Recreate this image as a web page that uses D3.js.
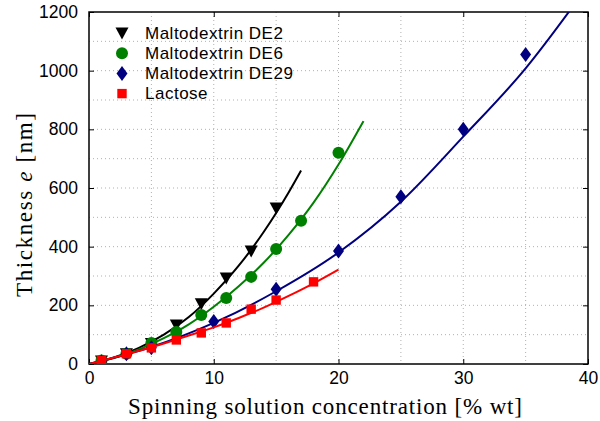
<!DOCTYPE html>
<html>
<head>
<meta charset="utf-8">
<script src="https://cdn.jsdelivr.net/npm/d3@7"></script>
<style>
  body { margin: 0; background: #fff; }
  .tick text { font-family: "Liberation Sans", Arial, sans-serif; font-size: 17.5px; fill: #000; }
</style>
</head>
<body>
<div id="chart"></div>
<script>
var width = 600, height = 421;
var margin = { left: 89, right: 12, top: 12, bottom: 57 };
var w = width - margin.left - margin.right;
var h = height - margin.top - margin.bottom;

// measured points
var de2X = [1, 3, 5, 7, 9, 11, 13, 15];
var de2Y = [10, 35, 70, 133, 205, 293, 385, 532];
var de6X = [1, 3, 5, 7, 9, 11, 13, 15, 17, 20];
var de6Y = [12, 35, 72, 109, 167, 225, 297, 392, 488, 720];
var de29X = [1, 3, 5, 10, 15, 20, 25, 30, 35];
var de29Y = [8, 35, 55, 145, 255, 385, 570, 800, 1055];
var lacX = [1, 3, 5, 7, 9, 11, 13, 15, 18];
var lacY = [12, 35, 55, 82, 106, 140, 187, 218, 280];

// fitted curves
var fitDe2X = [0, 2, 4, 6, 8, 10, 12, 14, 15, 16, 17];
var fitDe2Y = [0, 22, 55, 100, 160, 240, 335, 450, 515, 585, 660];
var fitDe6X = [0, 2, 4, 6, 8, 10, 12, 14, 16, 18, 20, 22];
var fitDe6Y = [0, 20, 50, 88, 135, 195, 265, 345, 440, 550, 680, 828];
var fitDe29X = [0, 5, 10, 15, 20, 25, 30, 35, 40];
var fitDe29Y = [0, 58, 140, 248, 380, 553, 775, 1008, 1290];
var fitLacX = [0, 2, 4, 6, 8, 10, 12, 14, 16, 18, 20];
var fitLacY = [0, 22, 45, 70, 97, 125, 157, 192, 232, 275, 322];

var xTicks = [0, 10, 20, 30, 40];
var yTicks = [0, 200, 400, 600, 800, 1000, 1200];

function zip(xs, ys) { return xs.map((x, i) => ({ x: x, y: ys[i] })); }

var series = [
  { name: "Maltodextrin DE2", color: "#000000", shape: "tri", pts: zip(de2X, de2Y), fit: zip(fitDe2X, fitDe2Y) },
  { name: "Maltodextrin DE6", color: "#008000", shape: "circle", pts: zip(de6X, de6Y), fit: zip(fitDe6X, fitDe6Y) },
  { name: "Maltodextrin DE29", color: "#000080", shape: "diamond", pts: zip(de29X, de29Y), fit: zip(fitDe29X, fitDe29Y) },
  { name: "Lactose", color: "#ff0000", shape: "square", pts: zip(lacX, lacY), fit: zip(fitLacX, fitLacY) }
];

var svg = d3.select("#chart")
  .append("svg")
  .attr("width", width)
  .attr("height", height);

var g = svg.append("g")
  .attr("transform", "translate(" + margin.left + "," + margin.top + ")");

var x = d3.scaleLinear().domain([0, 40]).range([0, w]);
var y = d3.scaleLinear().domain([0, 1200]).range([h, 0]);

g.append("clipPath").attr("id", "clip")
  .append("rect").attr("width", w).attr("height", h);

// dotted grid
g.selectAll(".gx")
  .data(d3.range(5, 40, 5))
  .enter().append("line")
  .attr("x1", d => x(d)).attr("x2", d => x(d))
  .attr("y1", 0).attr("y2", h)
  .style("stroke", "#b0b0b0").style("stroke-dasharray", "1,3");

g.selectAll(".gy")
  .data(d3.range(100, 1200, 100))
  .enter().append("line")
  .attr("y1", d => y(d)).attr("y2", d => y(d))
  .attr("x1", 0).attr("x2", w)
  .style("stroke", "#b0b0b0").style("stroke-dasharray", "1,3");

// axes, ticks inside
g.append("g").attr("transform", "translate(0," + h + ")")
  .call(d3.axisBottom(x).tickValues(xTicks).tickSizeInner(-5).tickSizeOuter(0).tickPadding(8).tickFormat(d3.format("d")));
g.append("g")
  .call(d3.axisLeft(y).tickValues(yTicks).tickSizeInner(-5).tickSizeOuter(0).tickPadding(11).tickFormat(d3.format("d")));
g.append("g").call(d3.axisTop(x).tickValues(xTicks).tickSizeInner(-5).tickSizeOuter(0).tickFormat(""));
g.append("g").attr("transform", "translate(" + w + ",0)")
  .call(d3.axisRight(y).tickValues(yTicks).tickSizeInner(-5).tickSizeOuter(0).tickFormat(""));
g.selectAll(".domain").remove();
g.selectAll(".tick line").style("stroke", "#000");

g.append("rect")
  .attr("width", w).attr("height", h)
  .style("fill", "none").style("stroke", "#000").style("stroke-width", 1.5);

var line = d3.line()
  .x(d => x(d.x))
  .y(d => y(d.y))
  .curve(d3.curveMonotoneX);

function marker(sel, s) {
  if (s.shape === "circle") {
    sel.append("circle").attr("r", 6).style("fill", s.color);
  } else if (s.shape === "tri") {
    sel.append("path").attr("d", "M-6.5,-5.5L6.5,-5.5L0,6.5Z").style("fill", s.color);
  } else if (s.shape === "diamond") {
    sel.append("path").attr("d", "M0,-7.5L5.5,0L0,7.5L-5.5,0Z").style("fill", s.color);
  } else {
    sel.append("rect").attr("x", -4.7).attr("y", -4.7).attr("width", 9.4).attr("height", 9.4).style("fill", s.color);
  }
}

var plot = g.append("g").attr("clip-path", "url(#clip)");

series.forEach(s => {
  plot.append("path")
    .datum(s.fit)
    .attr("d", line)
    .style("fill", "none")
    .style("stroke", s.color)
    .style("stroke-width", 2);

  plot.selectAll(null)
    .data(s.pts)
    .enter().append("g")
    .attr("transform", d => "translate(" + x(d.x) + "," + y(d.y) + ")")
    .each(function () { marker(d3.select(this), s); });
});

// legend
var legend = g.append("g").attr("transform", "translate(33,21)");
series.forEach((s, i) => {
  var row = legend.append("g").attr("transform", "translate(0," + (i * 20.2) + ")");
  marker(row, s);
  row.append("text")
    .attr("x", 23).attr("y", 5.5)
    .style("font-family", "Liberation Sans, Arial, sans-serif")
    .style("font-size", "17px")
    .style("letter-spacing", "0.5px")
    .text(s.name);
});

// axis labels
svg.append("text")
  .attr("x", 325)
  .attr("y", 414)
  .attr("text-anchor", "middle")
  .attr("textLength", 394)
  .style("font-family", "Liberation Serif, serif")
  .style("font-size", "23px")
  .text("Spinning solution concentration [% wt]");

svg.append("text")
  .attr("transform", "translate(32,205) rotate(-90)")
  .attr("text-anchor", "middle")
  .attr("textLength", 184)
  .style("font-family", "Liberation Serif, serif")
  .style("font-size", "23px")
  .html("Thickness <tspan font-style='italic'>e</tspan> [nm]");
</script>
</body>
</html>
